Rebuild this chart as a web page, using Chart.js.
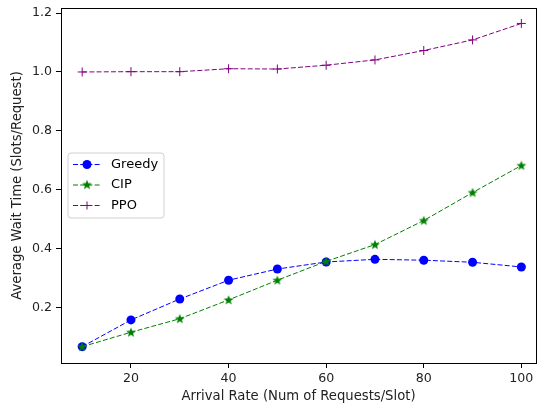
<!DOCTYPE html>
<html>
<head>
<meta charset="utf-8">
<script src="https://cdn.jsdelivr.net/npm/chart.js@4.4.1/dist/chart.umd.min.js"></script>
<style>
  html, body { margin: 0; padding: 0; background: #fff; overflow: hidden; }
  #wrap { width: 537px; height: 404px; }
</style>
</head>
<body>
<div id="wrap"><canvas id="waitchart" width="537" height="404"></canvas></div>
<script>
// arrival rates (x values)
const arrivalRates = [10, 20, 30, 40, 50, 60, 70, 80, 90, 100];

// average wait time per method
const greedyWait = [0.066, 0.157, 0.228, 0.292, 0.330, 0.354, 0.363, 0.360, 0.353, 0.337];
const cipWait = [0.066, 0.115, 0.161, 0.225, 0.292, 0.356, 0.413, 0.495, 0.590, 0.682];
const ppoWait = [1.000, 1.001, 1.001, 1.011, 1.010, 1.023, 1.041, 1.073, 1.109, 1.165];

// axis ticks
const xTicks = [20, 40, 60, 80, 100];
const yTicks = [0.2, 0.4, 0.6, 0.8, 1.0, 1.2];

const FONT = 'DejaVu Sans';

// filled five point star like matplotlib '*'
function makeStar(color) {
  const c = document.createElement('canvas');
  c.width = 12; c.height = 12;
  const g = c.getContext('2d');
  g.beginPath();
  for (let i = 0; i < 10; i++) {
    const r = i % 2 === 0 ? 5.2 : 2.2;
    const a = -Math.PI / 2 + i * Math.PI / 5;
    const px = 6 + r * Math.cos(a), py = 6.4 + r * Math.sin(a);
    if (i === 0) g.moveTo(px, py); else g.lineTo(px, py);
  }
  g.closePath();
  g.fillStyle = color;
  g.fill();
  return c;
}
const starIcon = makeStar('#008000');

function toPoints(ys) {
  return arrivalRates.map((x, i) => ({ x: x, y: ys[i] }));
}

// frame around plot + legend inside the axes
const framePlugin = {
  id: 'frame',
  afterDraw(chart) {
    const ctx = chart.ctx, a = chart.chartArea;
    ctx.save();
    ctx.strokeStyle = '#000';
    ctx.lineWidth = 1;
    ctx.strokeRect(Math.round(a.left) + 0.5, Math.round(a.top) + 0.5,
      Math.round(a.right - a.left), Math.round(a.bottom - a.top));

    // legend box
    const bx = 68, by = 153, bw = 96, bh = 65, r = 3;
    ctx.beginPath();
    ctx.moveTo(bx + r, by);
    ctx.arcTo(bx + bw, by, bx + bw, by + bh, r);
    ctx.arcTo(bx + bw, by + bh, bx, by + bh, r);
    ctx.arcTo(bx, by + bh, bx, by, r);
    ctx.arcTo(bx, by, bx + bw, by, r);
    ctx.closePath();
    ctx.fillStyle = 'rgba(255,255,255,0.8)';
    ctx.fill();
    ctx.strokeStyle = '#d0d0d0';
    ctx.stroke();

    const rows = [164.5, 185, 205.5];
    chart.data.datasets.forEach((ds, i) => {
      const y = rows[i];
      ctx.beginPath();
      ctx.setLineDash(ds.borderDash);
      ctx.strokeStyle = ds.borderColor;
      ctx.lineWidth = 1;
      ctx.moveTo(73, y);
      ctx.lineTo(101, y);
      ctx.stroke();
      ctx.setLineDash([]);
      if (ds.pointStyle === 'circle') {
        ctx.beginPath();
        ctx.arc(87, y, 4.5, 0, Math.PI * 2);
        ctx.fillStyle = ds.pointBackgroundColor;
        ctx.fill();
      } else if (ds.pointStyle === 'cross') {
        ctx.beginPath();
        ctx.moveTo(83, y); ctx.lineTo(91, y);
        ctx.moveTo(87, y - 4); ctx.lineTo(87, y + 4);
        ctx.strokeStyle = ds.pointBorderColor;
        ctx.stroke();
      } else {
        ctx.drawImage(ds.pointStyle, 81, y - 6.4);
      }
      ctx.fillStyle = '#000';
      ctx.font = '13px ' + FONT;
      ctx.textBaseline = 'middle';
      ctx.textAlign = 'left';
      ctx.fillText(ds.label, 111, y);
    });
    ctx.restore();
  }
};

const ctx = document.getElementById('waitchart').getContext('2d');
const waitChart = new Chart(ctx, {
  type: 'line',
  data: {
    datasets: [{
      label: 'Greedy',
      data: toPoints(greedyWait),
      borderColor: '#0000ff',
      borderWidth: 1,
      borderDash: [5, 2.2],
      pointStyle: 'circle',
      pointRadius: 4.5,
      pointBackgroundColor: '#0000ff',
      pointBorderColor: '#0000ff',
      pointBorderWidth: 0,
      order: 3
    }, {
      label: 'CIP',
      data: toPoints(cipWait),
      borderColor: '#008000',
      borderWidth: 1,
      borderDash: [5, 2.2],
      pointStyle: starIcon,
      pointRadius: 5,
      pointBackgroundColor: '#008000',
      pointBorderColor: '#008000',
      order: 2
    }, {
      label: 'PPO',
      data: toPoints(ppoWait),
      borderColor: '#800080',
      borderWidth: 1,
      borderDash: [5, 2.2],
      pointStyle: 'cross',
      pointRadius: 4.5,
      pointBorderColor: '#800080',
      pointBorderWidth: 1,
      order: 1
    }]
  },
  options: {
    responsive: false,
    animation: false,
    events: [],
    layout: { autoPadding: false, padding: { top: 8, right: 1, left: 0, bottom: 0 } },
    elements: { line: { tension: 0, fill: false } },
    plugins: { legend: { display: false }, tooltip: { enabled: false } },
    scales: {
      x: {
        type: 'linear',
        min: 5.66,
        max: 103.0,
        afterBuildTicks: function (scale) {
          scale.ticks = xTicks.map(v => ({ value: v }));
        },
        afterFit: function (scale) {
          scale.height = 41;
          scale.paddingLeft = 0;
          scale.paddingRight = 0;
        },
        grid: { drawOnChartArea: false, drawTicks: true, tickLength: 5, color: '#000' },
        border: { display: true, color: '#000' },
        ticks: {
          color: '#222',
          font: { family: FONT, size: 12.6 },
          padding: 3,
          maxRotation: 0
        },
        title: {
          display: true,
          text: 'Arrival Rate (Num of Requests/Slot)',
          color: '#222',
          font: { family: FONT, size: 13.2 },
          padding: { top: 0, bottom: 0 }
        }
      },
      y: {
        type: 'linear',
        min: 0.0105,
        max: 1.2175,
        afterBuildTicks: function (scale) {
          scale.ticks = yTicks.map(v => ({ value: v }));
        },
        afterFit: function (scale) {
          scale.width = 61;
          scale.paddingTop = 0;
          scale.paddingBottom = 0;
        },
        grid: { drawOnChartArea: false, drawTicks: true, tickLength: 5, color: '#000' },
        border: { display: true, color: '#000' },
        ticks: {
          color: '#222',
          font: { family: FONT, size: 12.6 },
          padding: 4,
          callback: function (v) { return v.toFixed(1); }
        },
        title: {
          display: true,
          text: 'Average Wait Time (Slots/Request)',
          color: '#222',
          font: { family: FONT, size: 13.2 },
          padding: { top: 10, bottom: 0 }
        }
      }
    }
  },
  plugins: [framePlugin]
});
</script>
</body>
</html>
